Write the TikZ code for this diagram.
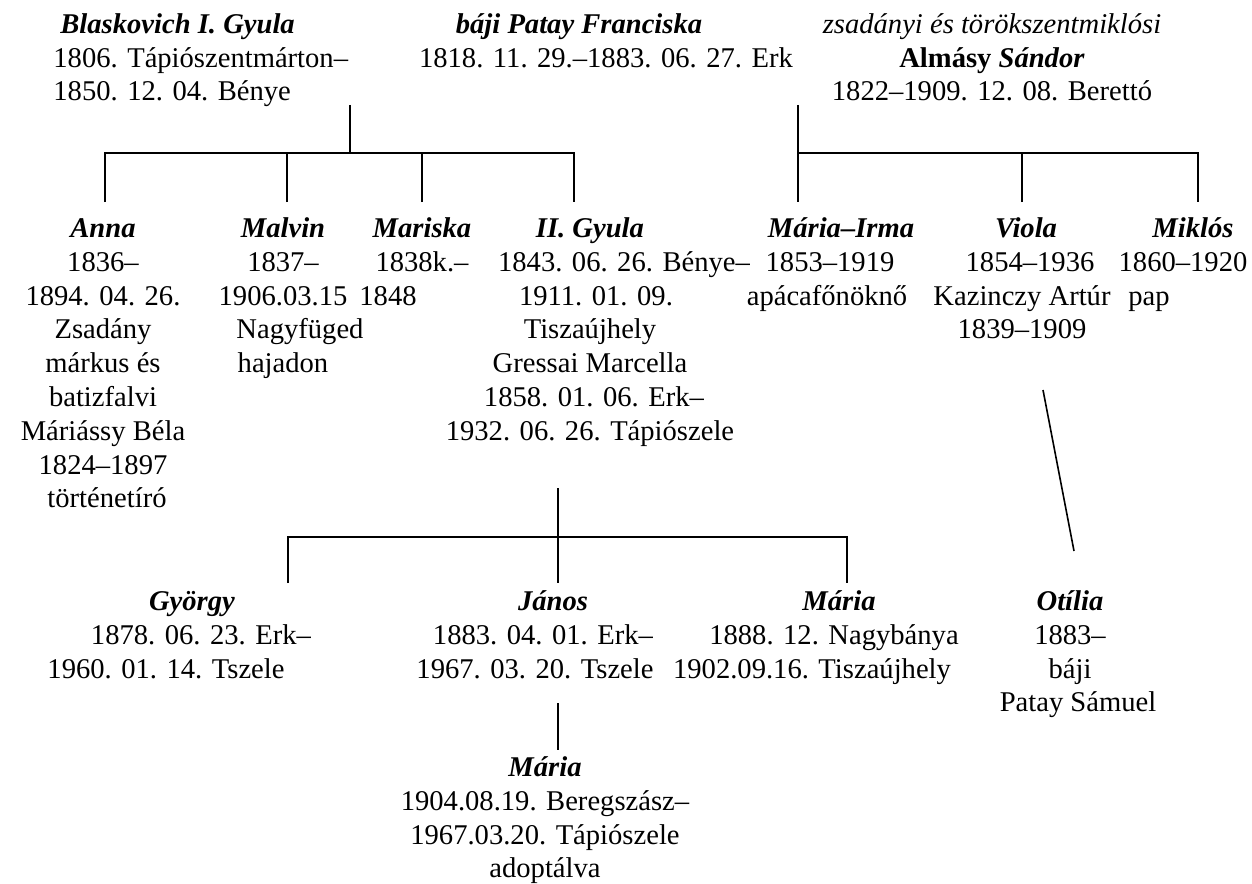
\documentclass[tikz,border=0pt]{standalone}
\usepackage{fontspec}
\setmainfont{Liberation Serif}
\usetikzlibrary{positioning}
\newcommand{\nm}[1]{\textbf{\textit{#1}}}
% shifts a centred line by #1 (1pt of space = 1px of shift)
\newcommand{\pad}[1]{\hspace*{#1pt}}
% fixed height of the first line, so that the node sits on its first baseline
\newcommand{\fl}{\rule{0pt}{11.5pt}}
\tikzset{
  % one person of the family tree
  person/.style={align=center, anchor=north, yshift=11.5pt, inner sep=0pt,
    font=\fontsize{14.3pt}{16.9pt}\selectfont},
  % lines of descent
  tie/.style={draw, line width=0.8pt},
}

\begin{document}
\begin{tikzpicture}[x=0.5pt,y=-0.5pt]
\useasboundingbox (0,0) rectangle (1252,883);

% parents
\node[person,align=left,anchor=north west] (blaskovich) at (53,33)
  {\fl\hspace*{3.5pt}\nm{Blaskovich I. Gyula}\\1806. Tápiószentmárton–\\1850. 12. 04. Bénye};
\node[person] (patay) at (606,33)
  {\fl\nm{báji Patay Franciska}\pad{27}\\1818. 11. 29.–1883. 06. 27. Erk};
\node[person] (almasy) at (992,33)
  {\fl\textit{zsadányi és törökszentmiklósi}\\\textbf{Almásy \textit{Sándor}}\\1822–1909. 12. 08. Berettó};

% children
\node[person] (anna) at (103,237)
  {\fl\nm{Anna}\\1836–\\1894. 04. 26.\\Zsadány\\márkus és\\batizfalvi\\Máriássy Béla\pad{8}\\1824–1897\\\pad{4}történetíró};
\node[person] (malvin) at (283,237)
  {\fl\nm{Malvin}\\1837–\pad{10}\\1906.03.15\pad{12}\\\pad{17}Nagyfüged\\hajadon};
\node[person] (mariska) at (422,237)
  {\fl\nm{Mariska}\\1838k.–\\1848\pad{34}};
\node[person] (gyula) at (590,237)
  {\fl\nm{II. Gyula}\\\pad{34}1843. 06. 26. Bénye–\\\pad{6}1911. 01. 09.\\Tiszaújhely\\Gressai Marcella\pad{6}\\\pad{4}1858. 01. 06. Erk–\\1932. 06. 26. Tápiószele};
\node[person] (mariairma) at (830,237)
  {\fl\pad{11}\nm{Mária–Irma}\\1853–1919\pad{3}\\apácafőnöknő\pad{3}};
\node[person] (viola) at (1022,237)
  {\fl\pad{4}\nm{Viola}\\\pad{8}1854–1936\\Kazinczy Artúr\pad{7}\\1839–1909};
\node[person] (miklos) at (1183,237)
  {\fl\pad{10}\nm{Miklós}\\1860–1920\\pap\pad{34}};

% grandchildren
\node[person] (gyorgy) at (190,610)
  {\fl\pad{2}\nm{György}\\\pad{11}1878. 06. 23. Erk–\\1960. 01. 14. Tszele\pad{24}};
\node[person] (janos) at (543,610)
  {\fl\pad{10}\nm{János}\\1883. 04. 01. Erk–\pad{2}\\1967. 03. 20. Tszele\pad{8}};
\node[person] (maria) at (834,610)
  {\fl\pad{5}\nm{Mária}\\1888. 12. Nagybánya\\1902.09.16. Tiszaújhely\pad{22}};
\node[person] (otilia) at (1070,610)
  {\fl\nm{Otília}\\1883–\pad{14}\\báji\pad{42}\\\pad{8}Patay Sámuel};
\node[person] (mariaad) at (545,776)
  {\fl\nm{Mária}\\1904.08.19. Beregszász–\\1967.03.20. Tápiószele\pad{13}\\adoptálva};

% junctions
\coordinate (bp) at (350,105);
\coordinate (bpj) at (350,153);
\coordinate (ka) at (105,202);
\coordinate (km) at (287,202);
\coordinate (kmr) at (422,202);
\coordinate (kg) at (574,202);
\coordinate (as) at (798,105);
\coordinate (kmi) at (798,202);
\coordinate (kv) at (1022,202);
\coordinate (kmk) at (1198,202);
\coordinate (gm) at (558,488);
\coordinate (gj) at (558,537);
\coordinate (kgy) at (288,583);
\coordinate (kj) at (558,583);
\coordinate (kma) at (847,583);
\coordinate (jm) at (558,703);
\coordinate (kad) at (558,750);
\coordinate (vo) at (1043,390);
\coordinate (ko) at (1074,551);

\path[tie] (bp) -- (bpj);
\path[tie] (ka) |- (bpj) -| (kg);
\path[tie] (km) -- (km |- bpj);
\path[tie] (kmr) -- (kmr |- bpj);
\path[tie] (as) -- (kmi);
\path[tie] (as |- bpj) -| (kmk);
\path[tie] (kv) -- (kv |- bpj);
\path[tie] (gm) -- (kj);
\path[tie] (kgy) |- (gj) -| (kma);
\path[tie] (jm) -- (kad);
\path[tie] (vo) -- (ko);
\end{tikzpicture}
\end{document}
